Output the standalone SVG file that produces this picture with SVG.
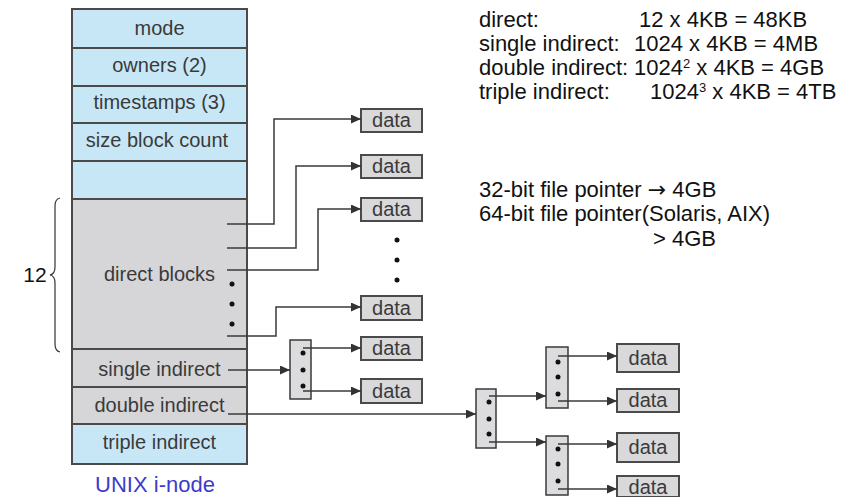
<svg xmlns="http://www.w3.org/2000/svg" width="863" height="497" viewBox="0 0 863 497">
<style>
.cellB{fill:#c8e7f6;stroke:#4a4a4a;stroke-width:2}
.cellG{fill:#d6d6d8;stroke:#4a4a4a;stroke-width:2}
.lbl{font-family:"Liberation Sans",Arial,sans-serif;font-size:20px;fill:#3a3a3a;text-anchor:middle}
.data rect{fill:#d9d9db;stroke:#4a4a4a;stroke-width:2}
.data text{font-family:"Liberation Sans",Arial,sans-serif;font-size:20px;fill:#3a3a3a;text-anchor:middle}
.idx rect{fill:#dcdcde;stroke:#3a3a3a;stroke-width:1.5}
.dot{fill:#111}
.conn path{fill:none;stroke:#3a3a3a;stroke-width:1.5}
.note{font-family:"Liberation Sans",Arial,sans-serif;font-size:22px;fill:#111}
</style>
<defs>
<marker id="arr" markerUnits="userSpaceOnUse" markerWidth="11" markerHeight="9" refX="10" refY="4.5" orient="auto">
<path d="M0,0 L10,4.5 L0,9 z" fill="#333"/>
</marker>
</defs>
<rect width="863" height="497" fill="#ffffff"/>

<g id="inode">
<rect class="cellB" x="72" y="9" width="175" height="39"/>
<rect class="cellB" x="72" y="48" width="175" height="38"/>
<rect class="cellB" x="72" y="86" width="175" height="37"/>
<rect class="cellB" x="72" y="123" width="175" height="38"/>
<rect class="cellB" x="72" y="161" width="175" height="38"/>
<rect class="cellG" x="72" y="199" width="175" height="150"/>
<rect class="cellG" x="72" y="349" width="175" height="38"/>
<rect class="cellG" x="72" y="387" width="175" height="37"/>
<rect class="cellB" x="72" y="424" width="175" height="40"/>
<text class="lbl" x="159.5" y="35">mode</text>
<text class="lbl" x="159.5" y="72">owners (2)</text>
<text class="lbl" x="159.5" y="109">timestamps (3)</text>
<text class="lbl" x="157" y="147">size block count</text>
<text class="lbl" x="159.5" y="281">direct blocks</text>
<text class="lbl" x="159.5" y="376">single indirect</text>
<text class="lbl" x="159.5" y="412">double indirect</text>
<text class="lbl" x="159.5" y="449">triple indirect</text>
<circle class="dot" cx="232" cy="284" r="2.5"/>
<circle class="dot" cx="232" cy="304" r="2.5"/>
<circle class="dot" cx="232" cy="324" r="2.5"/>
<text x="155" y="492" font-family="Liberation Sans,Arial,sans-serif" font-size="22" fill="#3c3ccc" text-anchor="middle">UNIX i-node</text>
</g>

<g id="brace">
<path d="M60,198 Q55,199 55,206 L55,267 Q55,274 50,275 Q55,276 55,283 L55,344 Q55,351 60,352" fill="none" stroke="#333" stroke-width="1.2"/>
<text x="35" y="282" font-family="Liberation Sans,Arial,sans-serif" font-size="21" fill="#111" text-anchor="middle">12</text>
</g>

<g id="data-direct" class="data">
<rect x="361" y="109" width="61" height="23"/><text x="391.5" y="127">data</text>
<rect x="361" y="155" width="61" height="23"/><text x="391.5" y="173">data</text>
<rect x="361" y="198" width="61" height="23"/><text x="391.5" y="216">data</text>
<rect x="361" y="296" width="61" height="24"/><text x="391.5" y="315">data</text>
</g>
<g id="direct-dots">
<circle class="dot" cx="397" cy="240" r="2.5"/>
<circle class="dot" cx="397" cy="260" r="2.5"/>
<circle class="dot" cx="397" cy="280" r="2.5"/>
</g>

<g id="single-index" class="idx">
<rect x="290" y="340" width="21" height="59"/>
<circle class="dot" cx="303" cy="353" r="2.5"/>
<circle class="dot" cx="303" cy="370" r="2.5"/>
<circle class="dot" cx="303" cy="386" r="2.5"/>
</g>
<g id="data-single" class="data">
<rect x="361" y="337" width="61" height="23"/><text x="391.5" y="355">data</text>
<rect x="361" y="379" width="61" height="24"/><text x="391.5" y="398">data</text>
</g>

<g id="double-index" class="idx">
<rect x="476" y="389" width="20" height="59"/>
<circle class="dot" cx="489" cy="402" r="2.5"/>
<circle class="dot" cx="489" cy="419" r="2.5"/>
<circle class="dot" cx="489" cy="434" r="2.5"/>
</g>
<g id="double-index-a" class="idx">
<rect x="546" y="347" width="22" height="61"/>
<circle class="dot" cx="558" cy="362" r="2.5"/>
<circle class="dot" cx="558" cy="377" r="2.5"/>
<circle class="dot" cx="558" cy="394" r="2.5"/>
</g>
<g id="double-index-b" class="idx">
<rect x="546" y="436" width="22" height="59"/>
<circle class="dot" cx="558" cy="449" r="2.5"/>
<circle class="dot" cx="558" cy="464" r="2.5"/>
<circle class="dot" cx="558" cy="481" r="2.5"/>
</g>
<g id="data-double" class="data">
<rect x="617" y="344" width="62" height="28"/><text x="648" y="365">data</text>
<rect x="617" y="389" width="62" height="23"/><text x="648" y="407">data</text>
<rect x="617" y="433" width="62" height="29"/><text x="648" y="454">data</text>
<rect x="617" y="476" width="62" height="21"/><text x="648" y="494">data</text>
</g>

<g id="connectors" class="conn">
<path d="M227,224 H274 V119 H361" marker-end="url(#arr)"/>
<path d="M227,248 H296 V166 H361" marker-end="url(#arr)"/>
<path d="M227,270 H318 V209 H361" marker-end="url(#arr)"/>
<path d="M227,336 H276 V307 H361" marker-end="url(#arr)"/>
<path d="M228,370 H290" marker-end="url(#arr)"/>
<path d="M303,348 H361" marker-end="url(#arr)"/>
<path d="M303,391 H361" marker-end="url(#arr)"/>
<path d="M228,414 H476" marker-end="url(#arr)"/>
<path d="M489,396 H546" marker-end="url(#arr)"/>
<path d="M489,442 H546" marker-end="url(#arr)"/>
<path d="M558,356 H617" marker-end="url(#arr)"/>
<path d="M558,401 H617" marker-end="url(#arr)"/>
<path d="M558,444 H617" marker-end="url(#arr)"/>
<path d="M558,489 H617" marker-end="url(#arr)"/>
</g>

<g id="sizes">
<text class="note" x="479" y="27">direct:</text>
<text class="note" x="639" y="27">12 x 4KB = 48KB</text>
<text class="note" x="479" y="51">single indirect:</text>
<text class="note" x="634" y="51">1024 x 4KB = 4MB</text>
<text class="note" x="479" y="75">double indirect:</text>
<text class="note" x="634" y="75">1024<tspan font-size="13" dy="-7">2</tspan><tspan dy="7"> x 4KB = 4GB</tspan></text>
<text class="note" x="479" y="99">triple indirect:</text>
<text class="note" x="650" y="99">1024<tspan font-size="13" dy="-7">3</tspan><tspan dy="7"> x 4KB = 4TB</tspan></text>
</g>
<g id="pointers">
<text class="note" x="479" y="197">32-bit file pointer <tspan font-family="DejaVu Sans,sans-serif" font-size="22">→</tspan> 4GB</text>
<text class="note" x="479" y="221">64-bit file pointer(Solaris, AIX)</text>
<text class="note" x="653" y="246">&gt; 4GB</text>
</g>
</svg>
